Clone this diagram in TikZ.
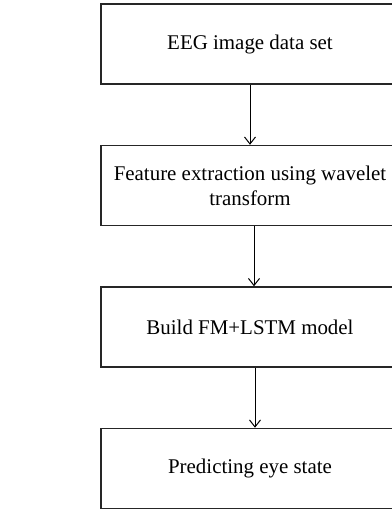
\documentclass[tikz,border=0pt]{standalone}
\usepackage{fontspec}
\setmainfont{Liberation Serif}
\usetikzlibrary{positioning,arrows.meta}

\tikzset{
  stage/.style={draw=black!85, line width=0.75pt, minimum width=149bp, minimum height=40bp,
    align=center, inner sep=0pt, font=\fontsize{10.5}{12.5}\selectfont},
  flow/.style={-{Straight Barb[length=3.5bp,width=5.5bp]}, line width=0.5pt},
}

\begin{document}
\begin{tikzpicture}[x=1bp,y=1bp,node distance=30bp]
\useasboundingbox (0,0) rectangle (196,-254.5);

% Stages
\node[stage] (data) at (125,-22) {EEG image data set};
\node[stage, below=of data] (feat) {Feature extraction using wavelet\\transform};
\node[stage, below=of feat] (model) {Build FM+LSTM model};
\node[stage, below=of model] (pred) {Predicting eye state};

% Arrows between stages
\draw[flow] (data) -- (feat);
\draw[flow] ([xshift=2bp]feat.south) -- ([xshift=2bp]model.north);
\draw[flow] ([xshift=2.5bp]model.south) -- ([xshift=2.5bp]pred.north);
\end{tikzpicture}
\end{document}
